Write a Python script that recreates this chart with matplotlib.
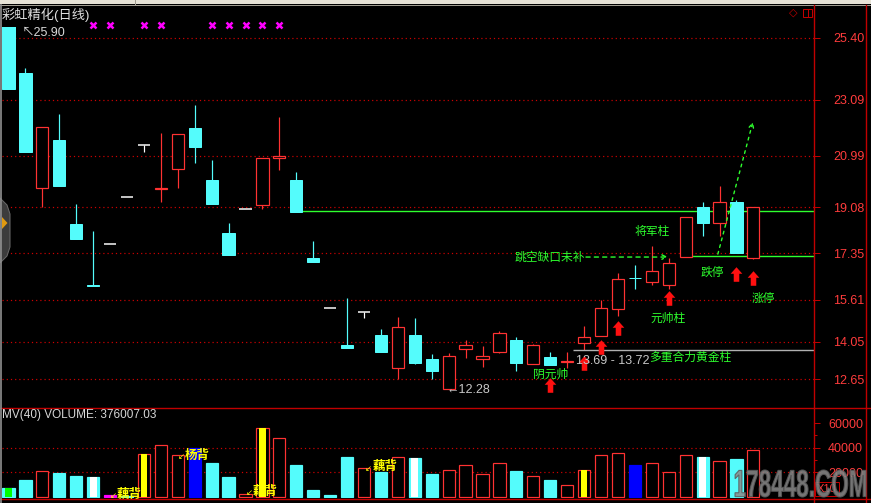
import numpy as np
import matplotlib
matplotlib.use("Agg")
import matplotlib.pyplot as plt
import matplotlib.transforms as mtransforms
from matplotlib.lines import Line2D
from matplotlib.patches import Rectangle, Polygon, PathPatch
from matplotlib.path import Path
from matplotlib.textpath import TextPath
from matplotlib.font_manager import FontProperties

plt.rcParams['font.family'] = ['Liberation Sans', 'Noto Sans CJK SC', 'DejaVu Sans']

# ---------------- data ----------------
title = "彩虹精化(日线)"
opens = [25.90, 24.09, 19.79, 21.59, 18.45, 16.15, 17.70, 19.45, 21.40, 19.77,
         20.50, 22.03, 20.09, 18.11, 19.01, 19.16, 20.93, 20.09, 17.17, 15.30,
         13.92, 15.16, 14.30, 13.06, 14.30, 13.40, 12.28, 13.77, 13.40, 13.66,
         14.11, 13.21, 13.47, 13.30, 14.00, 14.26, 15.27, 16.44, 16.28, 16.17,
         17.21, 19.08, 18.48, 19.27, 17.17]
highs = [25.90, 24.28, 22.07, 22.56, 19.19, 18.18, 17.70, 19.45, 21.40, 21.85,
         21.81, 22.90, 20.84, 18.48, 19.01, 20.91, 22.45, 20.39, 17.81, 15.30,
         15.68, 15.16, 14.52, 14.97, 14.93, 13.58, 13.62, 14.11, 13.88, 14.44,
         14.22, 13.96, 13.66, 13.66, 14.63, 15.60, 16.61, 16.91, 17.62, 17.17,
         18.71, 19.27, 19.87, 19.34, 19.08]
lows = [23.49, 21.14, 19.08, 19.87, 17.88, 16.12, 17.70, 19.45, 21.14, 19.27,
        19.79, 20.73, 19.19, 17.29, 19.01, 19.01, 20.46, 18.89, 17.02, 15.30,
        13.81, 14.93, 13.66, 12.65, 13.21, 12.65, 12.28, 13.44, 13.10, 13.62,
        12.95, 13.21, 13.17, 13.06, 13.73, 14.26, 15.01, 16.02, 16.17, 16.02,
        17.21, 18.00, 18.00, 17.36, 17.12]
closes = [23.49, 21.14, 22.07, 19.87, 17.88, 16.12, 17.70, 19.45, 21.40, 19.81,
          21.81, 21.32, 19.19, 17.29, 19.01, 20.91, 20.97, 18.89, 17.02, 15.30,
          13.81, 15.16, 13.66, 14.59, 13.25, 12.95, 13.51, 13.92, 13.51, 14.37,
          13.25, 13.92, 13.17, 13.34, 14.22, 15.30, 16.39, 16.41, 16.69, 16.99,
          18.71, 18.48, 19.27, 17.36, 19.08]
volumes = [6939, 13469, 20816, 19184, 16735, 15918, 1000, 300, 34694, 42041,
           33878, 39592, 27347, 15918, 2041, 55918, 47755, 25714, 5306, 1224,
           32245, 23265, 20000, 32245, 31429, 18367, 21633, 25714, 18367, 27347,
           20816, 16735, 13469, 9388, 21633, 33878, 35510, 25714, 27347, 20000,
           33878, 32245, 28980, 30612, 37959]
vol_kind = ['down', 'down', 'up', 'down', 'down', 'down', 'magenta', 'down', 'up', 'up',
            'up', 'blue', 'down', 'down', 'up', 'up', 'up', 'down', 'down', 'down',
            'down', 'up', 'down', 'up', 'down', 'down', 'up', 'up', 'up', 'up',
            'down', 'up', 'down', 'up', 'up', 'up', 'up', 'blue', 'up', 'up',
            'up', 'down', 'up', 'down', 'up']
vol_inner = {0: 'green', 5: 'white', 8: 'yellow', 15: 'yellow', 24: 'white',
             34: 'yellow', 41: 'white'}
price_ticks = [25.40, 23.09, 20.99, 19.08, 17.35, 15.61, 14.05, 12.65]
vol_ticks = [60000, 40000, 20000]
vol_minor = [50000, 30000, 10000]
vol_grid = [40000, 20000]
mark_idx = [5, 6, 8, 9, 12, 13, 14, 15, 16]
arrow_idx = [32, 34, 35, 36, 39, 43, 44]
arrow_price = [12.43, 13.25, 13.85, 14.56, 15.68, 16.58, 16.43]
green_line1 = (16.92, 18.93)
green_line2 = (39.75, 17.25)
gray_line = (33.34, 13.73)
high_label = "25.90"
low_label = "12.28"
range_label = "13.69 - 13.72"
vol_text = "MV(40) VOLUME: 376007.03"

# ---------------- style ----------------
RED = '#FF3232'
CYAN = '#54FCFC'
GREEN = '#2EFF2E'
GRID = '#D00000'
FRAME = '#C00000'
LABRED = '#FF3C3C'
YELLOW = '#FFFF00'
INNER = {'green': '#00FF00', 'white': '#FFFFFF', 'yellow': '#FFFF00'}
PX = 0.72

W, H = 871, 503
fig = plt.figure(figsize=(W / 100, H / 100), dpi=100, facecolor='black')


def fx(px):
    return px / W


def fy(py):
    return 1 - py / H


ax = fig.add_axes([fx(2), fy(408), fx(814) - fx(2), fy(27) - fy(408)])
axv = fig.add_axes([fx(2), fy(498), fx(814) - fx(2), fy(408) - fy(498)])
XL = (-0.384, 47.58)
for a in (ax, axv):
    a.set_facecolor('black')
    a.set_xlim(*XL)
    for s in a.spines.values():
        s.set_visible(False)
    a.set_xticks([])
ax.set_ylim(11.566, 25.811)
axv.set_ylim(-1224, 72245)

o = np.array(opens); h = np.array(highs); l = np.array(lows); c = np.array(closes)
x = np.arange(len(o))
up = c > o
dn = c < o
fl = c == o
bw = 0.72

# grid (dotted)
for t in price_ticks:
    ax.axhline(t, color=GRID, linewidth=PX * 1.2, dashes=(1, 2.5), zorder=1)
for t in vol_grid:
    axv.axhline(t, color=GRID, linewidth=PX * 1.2, dashes=(1, 2.5), zorder=1)

# candles
ax.vlines(x[up], l[up], h[up], colors=RED, linewidth=PX * 1.2, zorder=2)
ax.bar(x[up], (c - o)[up], bottom=o[up], width=bw, facecolor='black', edgecolor=RED, linewidth=PX * 1.2, zorder=3)
ax.vlines(x[dn], l[dn], h[dn], colors=CYAN, linewidth=PX * 1.2, zorder=2)
ax.bar(x[dn], (o - c)[dn], bottom=c[dn], width=bw, facecolor=CYAN, edgecolor=CYAN, linewidth=PX, zorder=3)
ax.vlines(x[fl], l[fl], h[fl], colors='white', linewidth=PX * 1.2, zorder=2)
ax.hlines(c[fl], x[fl] - bw / 2, x[fl] + bw / 2, colors='white', linewidth=PX * 1.5, zorder=3)

# horizontal lines
ax.hlines(green_line1[1], green_line1[0], XL[1], colors=GREEN, linewidth=1.0, zorder=2.5)
ax.hlines(green_line2[1], green_line2[0], XL[1], colors=GREEN, linewidth=1.0, zorder=2.5)
ax.hlines(gray_line[1], gray_line[0], XL[1], colors='#B0B0B0', linewidth=1.0, zorder=2.5)

# red up arrows
arrow_path = Path([(0, 1), (0.8, 0.1), (0.38, 0.1), (0.38, -1), (-0.38, -1),
                   (-0.38, 0.1), (-0.8, 0.1), (0, 1)], closed=True)
ax.plot(arrow_idx, arrow_price, linestyle='none', marker=arrow_path, markersize=10.5,
        color='#FF1010', markeredgewidth=0, zorder=5)

# magenta x marks above the panel
trans_mark = mtransforms.blended_transform_factory(ax.transData, ax.transAxes)
ax.plot(mark_idx, [1.005] * len(mark_idx), linestyle='none', marker='x', markersize=5,
        markeredgewidth=1.8, color='#FF00FF', transform=trans_mark, clip_on=False)

# texts in main panel
cjk = ['Noto Sans CJK SC', 'DejaVu Sans']
ax.text(0.8, 25.59, "↖" + high_label, color='#D8D8D8', fontsize=9, va='center', ha='left', zorder=6)
ax.text(25.9, 12.24, "←" + low_label, color='#C8C8C8', fontsize=9, va='center', ha='left', zorder=6)
ax.text(33.52, 13.32, range_label, color='#C8C8C8', fontsize=9, va='center', ha='left', zorder=6)
ax.text(29.92, 17.21, "跳空缺口未补", color=GREEN, fontsize=8.5, va='center', ha='left', family=cjk, zorder=6)
ax.annotate('', xy=(38.95, 17.21), xytext=(34.11, 17.21),
            arrowprops=dict(arrowstyle='->', color=GREEN, lw=1.0, linestyle=(0, (3, 3)),
                            shrinkA=0, shrinkB=0, mutation_scale=8), zorder=6)
ax.text(38.0, 18.18, "将军柱", color=GREEN, fontsize=8.5, va='center', ha='center', family=cjk, zorder=6)
ax.text(38.93, 14.93, "元帅柱", color=GREEN, fontsize=8.5, va='center', ha='center', family=cjk, zorder=6)
ax.text(41.6, 16.65, "跌停", color=GREEN, fontsize=8.5, va='center', ha='center', family=cjk, zorder=6)
ax.text(44.6, 15.68, "涨停", color=GREEN, fontsize=8.5, va='center', ha='center', family=cjk, zorder=6)
ax.text(32.0, 12.84, "阴元帅", color=GREEN, fontsize=8.5, va='center', ha='center', family=cjk, zorder=6)
ax.text(37.83, 13.47, "多重合力黄金柱", color=GREEN, fontsize=8.5, va='center', ha='left', family=cjk, zorder=6)
ax.annotate('', xy=(43.97, 22.26), xytext=(41.9, 17.32),
            arrowprops=dict(arrowstyle='->', color=GREEN, lw=1.0, linestyle=(0, (2, 3)),
                            shrinkA=0, shrinkB=0, mutation_scale=8), zorder=6)

# price axis
ax.yaxis.set_ticks_position('right')
ax.set_yticks(price_ticks)
ax.set_yticklabels([f"{v:.2f}" for v in price_ticks])
ax.tick_params(axis='y', direction='out', length=6 * PX, width=PX, color=FRAME,
               labelcolor=LABRED, labelsize=9, pad=13 * PX)

# volume bars
v = np.array(volumes, dtype=float)
for i in range(len(v)):
    k = vol_kind[i]
    if k == 'up':
        fc, ec = 'black', RED
    elif k == 'down':
        fc, ec = CYAN, CYAN
    elif k == 'blue':
        fc, ec = '#0000FF', '#0000FF'
    else:
        fc, ec = '#FF00FF', '#FF00FF'
    axv.bar(x[i], v[i], width=bw, facecolor=fc, edgecolor=ec, linewidth=PX * 1.2, zorder=3)
    if i in vol_inner:
        axv.bar(x[i], v[i], width=0.4, color=INNER[vol_inner[i]], linewidth=0, zorder=4)

axv.yaxis.set_ticks_position('right')
axv.set_yticks(vol_ticks)
axv.set_yticklabels([str(t) for t in vol_ticks])
axv.set_yticks(vol_minor, minor=True)
axv.tick_params(axis='y', which='major', direction='out', length=6 * PX, width=PX, color=FRAME,
                labelcolor=LABRED, labelsize=9, pad=8 * PX)
axv.tick_params(axis='y', which='minor', direction='out', length=3 * PX, width=PX, color=FRAME)

# volume labels
for xa, xt, yv, name in [(6.0, 6.41, 2041, "藕背"), (10.0, 10.43, 33878, "杨背"),
                         (14.03, 14.44, 4490, "藕背"), (21.06, 21.53, 24082, "藕背")]:
    axv.text(xa, yv - 1500, "↙", color=YELLOW, fontsize=6, va='center', ha='left',
             family=['DejaVu Sans'], zorder=6)
    axv.text(xt, yv, name, color=YELLOW, fontsize=9, va='center', ha='left',
             family=cjk, fontweight='bold', zorder=6)

# ---------------- frame / decorations ----------------
def fline(x0, y0, x1, y1, color, lw=PX):
    fig.add_artist(Line2D([fx(x0), fx(x1)], [fy(y0), fy(y1)], transform=fig.transFigure,
                          color=color, linewidth=lw))

fig.add_artist(Rectangle((0, fy(4)), 1, 1 - fy(4), transform=fig.transFigure,
                         facecolor='#E6E2D6', edgecolor='none'))
fline(0, 4.5, W, 4.5, '#A09C90')
fline(135, 0, 135, 4.5, '#A09C90')
fline(814, 5, 814, H, FRAME, 1.0)
fline(866, 5, 866, H, FRAME, 1.0)
fline(0, 408, W, 408, FRAME, 1.0)
fline(0, 498.5, W, 498.5, FRAME, 1.0)
fline(0.5, 5, 0.5, H, '#909090', 1.2)

fig.text(fx(2), fy(15), title, color='#E0E0E0', fontsize=9.5, va='center', ha='left')
fig.text(fx(2), fy(415), vol_text, color='#D8D8D8', fontsize=8.5, va='center', ha='left')
fig.text(fx(793), fy(13), "◇", color=FRAME, fontsize=8, va='center', ha='center',
         family=['DejaVu Sans'])
fig.add_artist(Rectangle((fx(803), fy(17)), fx(812) - fx(803), fy(9) - fy(17),
                         transform=fig.transFigure, facecolor='none', edgecolor=FRAME, linewidth=PX))
fline(808, 9, 808, 17, FRAME)
fig.text(fx(827), fy(489), "X10", color=LABRED, fontsize=8, va='center', ha='center',
         bbox=dict(boxstyle='square,pad=0.15', facecolor='none', edgecolor=FRAME, linewidth=PX))

# left side handle
fig.add_artist(Polygon([(fx(0), fy(198)), (fx(7), fy(205)), (fx(10), fy(214)), (fx(10), fy(247)),
                        (fx(7), fy(256)), (fx(0), fy(263))], closed=True, transform=fig.transFigure,
                       facecolor='#3C3C3C', edgecolor='#6A6A6A', linewidth=PX))
fig.add_artist(Polygon([(fx(2), fy(217)), (fx(2), fy(229)), (fx(7.5), fy(223))], closed=True,
                       transform=fig.transFigure, facecolor='#E09A10', edgecolor='none'))

# watermark
tp = TextPath((0, 0), "178448.COM", size=20, prop=FontProperties(family='Liberation Sans', weight='bold'))
ext = tp.get_extents()
sx = 131 / ext.width
sy = 27 / ext.height
wm_t = mtransforms.Affine2D().translate(-ext.x0, -ext.y0).scale(sx, sy).translate(735, H - 497)
fig.add_artist(PathPatch(wm_t.transform_path(tp), transform=mtransforms.IdentityTransform(),
                         facecolor='#8A8A8A', edgecolor='#5A5A5A', linewidth=0.8, alpha=0.85, zorder=10))

fig.savefig('out.png', dpi=100, facecolor='black')
